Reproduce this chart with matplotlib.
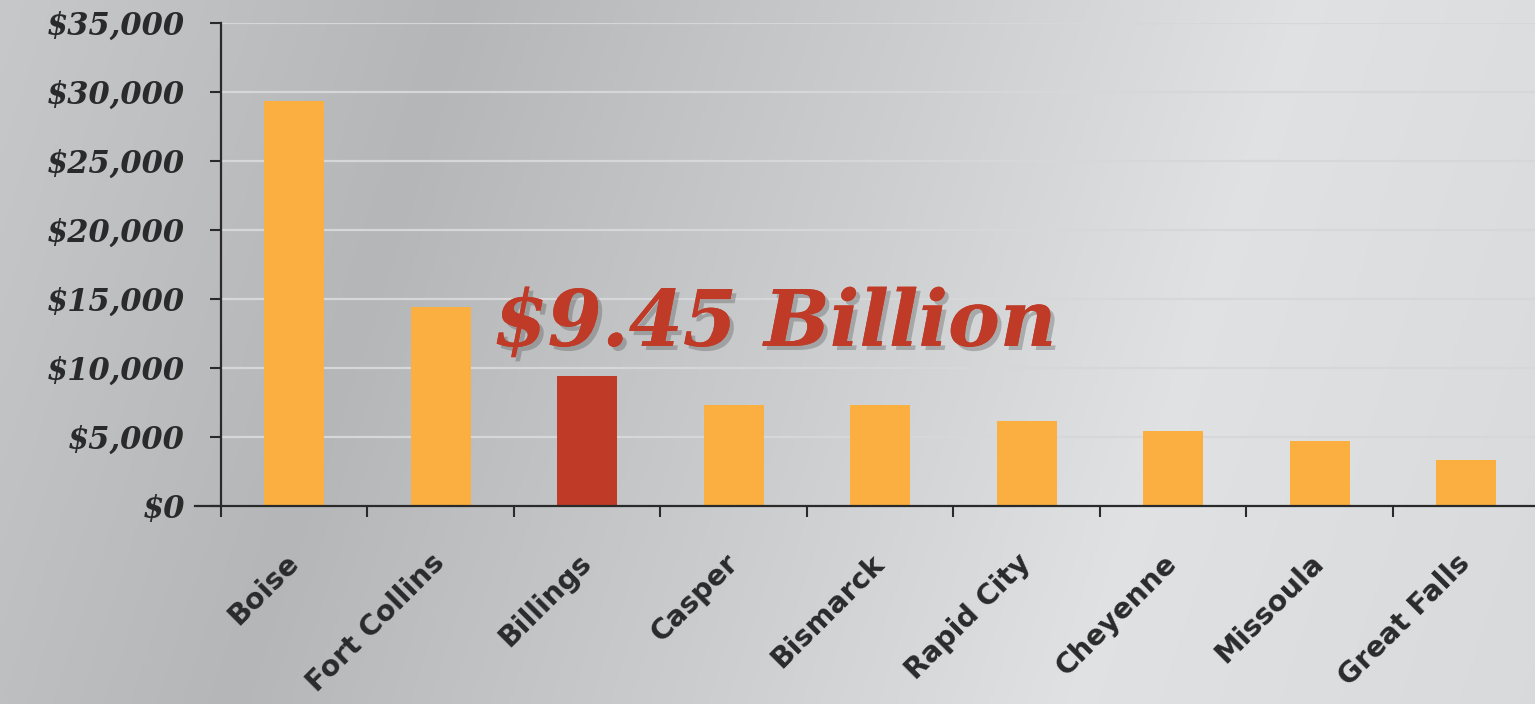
import numpy as np
import matplotlib
matplotlib.use("Agg")
from matplotlib import pyplot as plt
from matplotlib import patheffects as pe
from matplotlib.ticker import FuncFormatter, MultipleLocator

# total spending by city, $ millions
cities = ["Boise", "Fort Collins", "Billings", "Casper", "Bismarck",
          "Rapid City", "Cheyenne", "Missoula", "Great Falls"]
spending = [29300, 14400, 9450, 7300, 7300, 6150, 5430, 4710, 3350]
highlight = "Billings"
callout = "$9.45 Billion"

ORANGE = "#FBAF40"
RED = "#BF3B27"
INK = "#2A2A2B"

fig = plt.figure(figsize=(15.35, 7.04), dpi=100)

# brushed-metal style backdrop
bg = fig.add_axes([0, 0, 1, 1], zorder=-10)
xx, yy = np.meshgrid(np.linspace(0, 1, 400), np.linspace(0, 1, 200))
u = xx + 0.15 * yy
lum = np.interp(u, [0.0, 0.3, 0.6, 0.85, 1.15], [0.78, 0.71, 0.80, 0.88, 0.85])
img = np.dstack([lum, lum + 0.004, lum + 0.01])
bg.imshow(np.clip(img, 0, 1), extent=[0, 1, 0, 1], aspect="auto", origin="upper")
bg.axis("off")

ax = fig.add_axes([221 / 1535, 1 - 506 / 704, 1 - 221 / 1535, (506 - 22.7) / 704])
ax.patch.set_alpha(0)

x = np.arange(len(cities))
colors = [RED if c == highlight else ORANGE for c in cities]
ax.bar(x, spending, width=0.41, color=colors, zorder=3)

ax.set_xlim(-0.5, 8.47)
ax.set_ylim(0, 35000)
ax.yaxis.set_major_locator(MultipleLocator(5000))
ax.yaxis.set_major_formatter(FuncFormatter(lambda v, p: "${:,.0f}".format(v)))
ax.grid(axis="y", color="#D6D7D8", lw=1.6, zorder=1)
ax.set_axisbelow(True)

# ticks between categories, labels at category centers
ax.set_xticks(np.arange(-0.5, len(cities) - 0.5, 1))
ax.set_xticklabels([])
ax.set_xticks(x, minor=True)
ax.set_xticklabels(cities, minor=True, rotation=45, ha="right", va="center",
                   rotation_mode="anchor", fontfamily="DejaVu Sans",
                   fontweight="bold", fontsize=20.5, color=INK)
ax.tick_params(axis="x", which="minor", length=0, pad=38)
ax.tick_params(axis="x", which="major", length=8, width=1.5, color=INK, direction="out")
ax.tick_params(axis="y", length=8, width=1.5, color=INK, pad=18)
for lab in ax.get_yticklabels():
    lab.set_fontfamily("DejaVu Serif")
    lab.set_fontstyle("italic")
    lab.set_fontweight("bold")
    lab.set_fontsize(22)
    lab.set_color(INK)

for side in ["top", "right"]:
    ax.spines[side].set_visible(False)
for side in ["left", "bottom"]:
    ax.spines[side].set_color(INK)
    ax.spines[side].set_linewidth(1.6)
ax.spines["left"].set_zorder(4)
ax.spines["bottom"].set_zorder(4)

# baseline runs a little past the value axis
ax.plot([-0.68, -0.5], [0, 0], color=INK, lw=1.6, clip_on=False, zorder=4)

ax.text(1.36, 11600, callout, color=RED, fontfamily="DejaVu Serif",
        fontstyle="italic", fontweight="bold", fontsize=56, ha="left",
        va="baseline", zorder=5,
        path_effects=[pe.withSimplePatchShadow(offset=(3, -3), shadow_rgbFace="#444444", alpha=0.3),
                      pe.Normal()])

fig.savefig("out.png", dpi=100)
